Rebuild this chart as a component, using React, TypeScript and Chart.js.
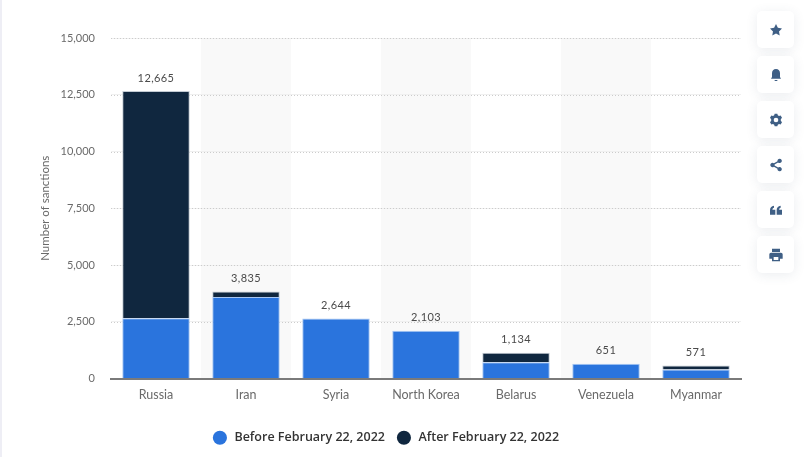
import React, { useEffect, useRef } from 'react';
import { Chart, registerables } from 'chart.js';

Chart.register(...registerables);

const categories = ['Russia', 'Iran', 'Syria', 'North Korea', 'Belarus', 'Venezuela', 'Myanmar'];
const before = [2650, 3586, 2644, 2103, 720, 651, 397];
const after = [10015, 249, 0, 0, 414, 0, 174];
const totals = [12665, 3835, 2644, 2103, 1134, 651, 571];
const yTicks = [0, 2500, 5000, 7500, 10000, 12500, 15000];

const bandsPlugin = {
  id: 'bands',
  beforeDraw(chart: any) {
    const { ctx, scales, chartArea } = chart;
    const step = scales.x.getPixelForValue(1) - scales.x.getPixelForValue(0);
    ctx.save();
    ctx.fillStyle = '#f9f9f9';
    categories.forEach((_, i) => {
      if (i % 2 === 1) {
        const cx = scales.x.getPixelForValue(i);
        ctx.fillRect(cx - step / 2, chartArea.top, step, chartArea.bottom - chartArea.top);
      }
    });
    ctx.restore();
  },
};

const gridPlugin = {
  id: 'dottedGrid',
  beforeDatasetsDraw(chart: any) {
    const { ctx, scales, chartArea } = chart;
    ctx.save();
    yTicks.forEach((t) => {
      if (t === 0) return;
      const y = Math.round(scales.y.getPixelForValue(t)) + 0.5;
      ctx.beginPath();
      ctx.setLineDash([1, 2]);
      ctx.strokeStyle = '#cccccc';
      ctx.lineWidth = 1;
      ctx.moveTo(chartArea.left, y);
      ctx.lineTo(chartArea.right, y);
      ctx.stroke();
    });
    ctx.restore();
  },
};

const totalsPlugin = {
  id: 'totals',
  afterDatasetsDraw(chart: any) {
    const { ctx, scales } = chart;
    ctx.save();
    ctx.font = '11px Lato';
    ctx.letterSpacing = '0.4px';
    ctx.fillStyle = '#4a4a4a';
    ctx.textAlign = 'center';
    ctx.textBaseline = 'middle';
    totals.forEach((v, i) => {
      const top = scales.y.getPixelForValue(before[i] + after[i]);
      ctx.fillText(v.toLocaleString('en-US'), scales.x.getPixelForValue(i), top - 13);
    });
    ctx.restore();
  },
};

const iconPaths = [
  'M12 3l2.8 5.8 6.2.9-4.5 4.4 1.1 6.3L12 17.4l-5.600 3 1.100-6.300L3 9.700l6.200-.9z',
  'M12 3c-3.800 0-6 2.800-6 6.500V15l-1.500 2.500h15L18 15V9.500C18 5.800 15.800 3 12 3zM10 19.500h4V21h-4z',
  'M10 2.500h4l.7 2.500 1.800 1 2.500-.6 2 3.400-1.800 1.900v2.600l1.800 1.900-2 3.400-2.500-.6-1.800 1-.7 2.500h-4l-.7-2.500-1.800-1-2.500.6-2-3.400 1.800-1.900v-2.600L3 8.800l2-3.400 2.500.6 1.800-1zM12 8.500a3.500 3.500 0 100 7 3.500 3.500 0 000-7z',
  'M17.500 2.500a3.300 3.300 0 11-2.400 5.600l-5.300 3a3.300 3.300 0 010 1.800l5.300 3a3.300 3.300 0 11-.9 1.600l-5.300-3a3.300 3.300 0 110-5l5.300-3a3.300 3.300 0 013.300-4z',
  'M3 19v-6.500C3 8.500 5 6 9 5.500v3C7.300 9 6.700 10 6.700 11.500H11V19zM13 19v-6.500c0-4 2-6.500 6-7v3c-1.700.5-2.300 1.500-2.300 3H21V19z',
  'M6 2.500h12v5H6zM4.500 8.500h15a2.500 2.500 0 012.500 2.500v6.500h-4v4H6v-4H2V11a2.500 2.500 0 012.500-2.500zM8.500 15v4.500h7V15z',
];

const App = () => {
  const canvasRef = useRef<HTMLCanvasElement>(null);

  useEffect(() => {
    const chart = new Chart(canvasRef.current as any, {
      type: 'bar',
      data: {
        labels: categories,
        datasets: [
          {
            label: 'Before February 22, 2022',
            data: before,
            backgroundColor: '#2a74dd',
            borderColor: '#a9c8f3',
            borderWidth: 1,
            barPercentage: 0.75,
            categoryPercentage: 1,
          },
          {
            label: 'After February 22, 2022',
            data: after,
            backgroundColor: '#10273f',
            borderColor: '#c3cbd3',
            borderWidth: 1,
            barPercentage: 0.75,
            categoryPercentage: 1,
          },
        ],
      },
      plugins: [bandsPlugin, gridPlugin, totalsPlugin],
      options: {
        responsive: false,
        animation: false,
        layout: { padding: { left: 33, right: 67, top: 38, bottom: 3 } },
        scales: {
          x: {
            stacked: true,
            grid: { display: false },
            border: { color: '#7a7a7a', width: 2 },
            ticks: { color: '#6a6a6a', font: { family: 'Lato', size: 12.5 }, padding: 1, maxRotation: 0 },
            afterFit(axis: any) {
              axis.height = 39;
            },
          },
          y: {
            stacked: true,
            min: 0,
            max: 15000,
            afterBuildTicks(axis: any) {
              axis.ticks = yTicks.map((value) => ({ value }));
            },
            afterFit(axis: any) {
              axis.width = 78;
            },
            grid: { color: '#f0f0f0', lineWidth: 1, drawTicks: false },
            border: { display: false },
            title: {
              display: true,
              text: 'Number of sanctions',
              color: '#6a6a6a',
              font: { family: 'Lato', size: 11.5 },
              padding: { top: 5, bottom: 0 },
            },
            ticks: {
              color: '#6a6a6a',
              font: { family: 'Lato', size: 11 },
              padding: 16,
              callback: (v: any) => Number(v).toLocaleString('en-US'),
            },
          },
        },
        plugins: {
          tooltip: { enabled: false },
          legend: {
            position: 'bottom',
            labels: {
              usePointStyle: true,
              pointStyle: 'circle',
              boxWidth: 10,
              boxHeight: 10,
              color: '#333333',
              font: { family: 'Open Sans', size: 12.5, weight: '600' },
              padding: 14,
              generateLabels(c: any) {
                return c.data.datasets.map((d: any, i: number) => ({
                  // leading space widens the gap between dot and text
                  text: ' ' + d.label,
                  fillStyle: d.backgroundColor,
                  strokeStyle: d.backgroundColor,
                  lineWidth: 0,
                  pointStyle: 'circle',
                  fontColor: '#333333',
                  datasetIndex: i,
                }));
              },
            },
          },
        },
      },
    });
    return () => chart.destroy();
  }, []);

  return (
    <div style={{ position: 'absolute', left: 0, top: 0, width: 805, height: 457, background: '#fff', overflow: 'hidden' }}>
      <div style={{ position: 'absolute', left: 0, top: 0, width: 2, height: 457, background: '#eeeef5' }} />
      <canvas ref={canvasRef} width={808} height={457} style={{ position: 'absolute', left: 0, top: 0 }} />
      {iconPaths.map((d, i) => (
        <div
          key={i}
          style={{
            position: 'absolute',
            left: 757,
            top: 11 + i * 45,
            width: 37,
            height: 37,
            borderRadius: 5,
            background: '#fff',
            boxShadow: '0 2px 12px rgba(60,80,110,.10)',
            display: 'flex',
            alignItems: 'center',
            justifyContent: 'center',
          }}
        >
          <svg width="16" height="16" viewBox="0 0 24 24">
            <path d={d} fill="#3f5f85" fillRule="evenodd" />
          </svg>
        </div>
      ))}
    </div>
  );
};

export default App;
